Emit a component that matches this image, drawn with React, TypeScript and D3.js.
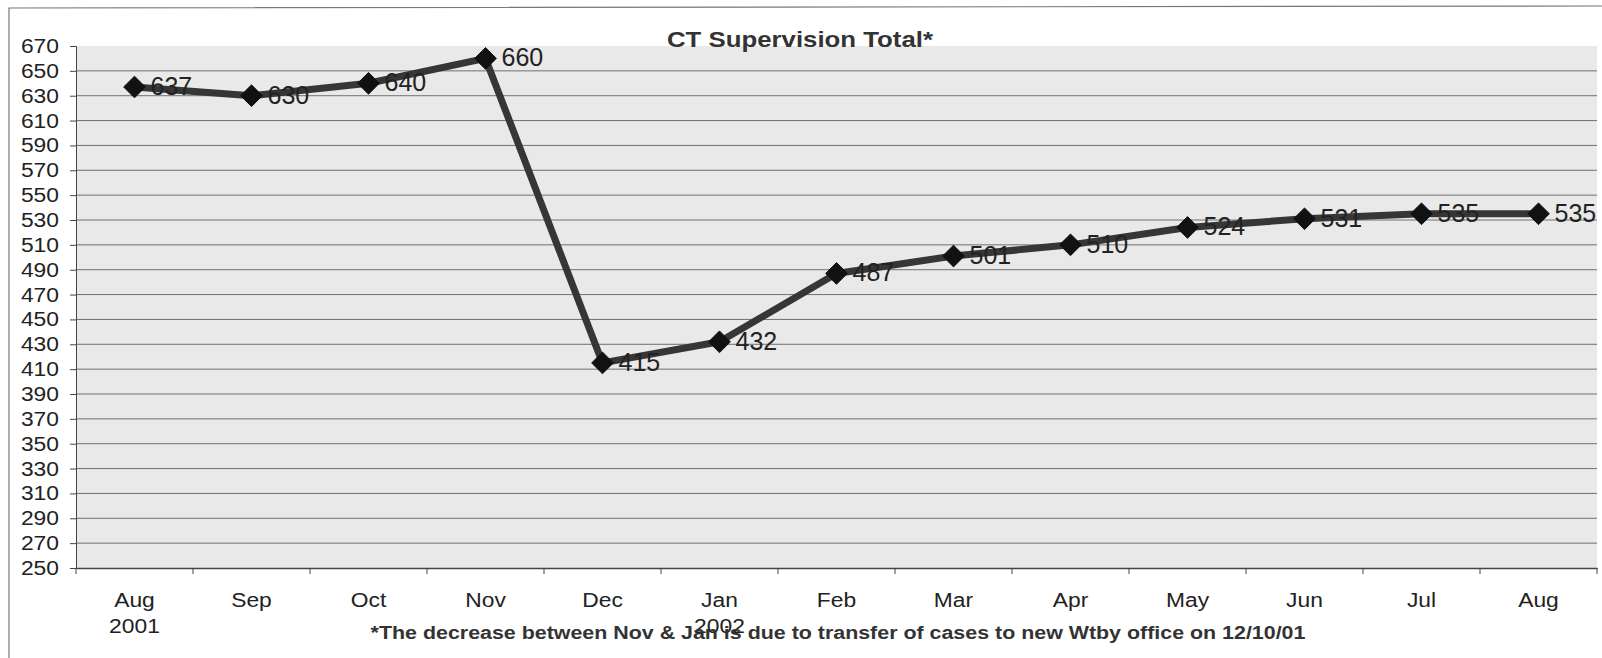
import { useEffect, useRef } from 'react';
import * as d3 from 'd3';

const months = ['Aug', 'Sep', 'Oct', 'Nov', 'Dec', 'Jan', 'Feb', 'Mar', 'Apr', 'May', 'Jun', 'Jul', 'Aug2'];
const monthLabels = ['Aug', 'Sep', 'Oct', 'Nov', 'Dec', 'Jan', 'Feb', 'Mar', 'Apr', 'May', 'Jun', 'Jul', 'Aug'];
const yearLabels = ['2001', '', '', '', '', '2002', '', '', '', '', '', '', ''];
const totals = [637, 630, 640, 660, 415, 432, 487, 501, 510, 524, 531, 535, 535];
const yTicks = d3.range(250, 671, 20);

export default function App() {
  const svgRef = useRef<SVGSVGElement>(null);
  const width = 1602;
  const height = 658;

  useEffect(() => {
    document.body.style.margin = '0';
    if (!svgRef.current) return;
    const svg = d3.select(svgRef.current);
    svg.selectAll('*').remove();

    const margin = { top: 46, right: 5, bottom: 90, left: 76 };
    const innerW = width - margin.left - margin.right;
    const innerH = height - margin.top - margin.bottom;
    const font = 'Arial, "Liberation Sans", sans-serif';
    // the scan is a bit wider than tall, so axis text gets stretched sideways
    const stretch = 1.17;

    // outer frame
    svg.append('rect').attr('width', width).attr('height', height).attr('fill', '#ffffff');
    svg
      .append('path')
      .attr('d', `M9,${height} L9,8 L${width},6`)
      .attr('fill', 'none')
      .attr('stroke', '#777')
      .attr('stroke-width', 1.2);

    const g = svg.append('g').attr('transform', `translate(${margin.left},${margin.top})`);

    const x = d3.scaleBand().domain(months).range([0, innerW]);
    const y = d3.scaleLinear().domain([250, 670]).range([innerH, 0]);
    const cx = (i: number) => (x(months[i]) ?? 0) + x.bandwidth() / 2;

    // plot background
    g.append('rect').attr('width', innerW).attr('height', innerH).attr('fill', '#e9e9e9');

    // gridlines
    g.selectAll('.grid')
      .data(yTicks.filter((t) => t !== 250 && t !== 670))
      .enter()
      .append('line')
      .attr('x1', 0)
      .attr('x2', innerW)
      .attr('y1', (d) => y(d))
      .attr('y2', (d) => y(d))
      .attr('stroke', '#707070')
      .attr('stroke-width', 1);

    // y axis
    const yAxis = g
      .append('g')
      .call(d3.axisLeft(y).tickValues(yTicks).tickSize(6).tickFormat(() => ''));
    yAxis.select('.domain').attr('stroke', '#444');
    yAxis.selectAll('line').attr('stroke', '#444');
    g.selectAll('.ytick-label')
      .data(yTicks)
      .enter()
      .append('text')
      .attr('transform', (d) => `translate(-17,${y(d) + 7}) scale(${stretch},1)`)
      .attr('text-anchor', 'end')
      .attr('font-family', font)
      .attr('font-size', 19.5)
      .attr('fill', '#222')
      .text((d) => d);

    // x axis
    const xAxis = g
      .append('g')
      .attr('transform', `translate(0,${innerH})`)
      .call(d3.axisBottom(x).tickSize(0).tickFormat(() => ''));
    xAxis.select('.domain').attr('stroke', '#444').attr('stroke-width', 1.5);
    g.selectAll('.xtick')
      .data(d3.range(months.length + 1))
      .enter()
      .append('line')
      .attr('x1', (i) => i * x.bandwidth())
      .attr('x2', (i) => i * x.bandwidth())
      .attr('y1', innerH)
      .attr('y2', innerH + 6)
      .attr('stroke', '#444');

    g.selectAll('.mlabel')
      .data(months)
      .enter()
      .append('text')
      .attr('transform', (_d, i) => `translate(${cx(i)},${innerH + 39}) scale(${stretch},1)`)
      .attr('text-anchor', 'middle')
      .attr('font-family', font)
      .attr('font-size', 19.5)
      .attr('fill', '#222')
      .text((_d, i) => monthLabels[i]);

    g.selectAll('.ylabel')
      .data(months)
      .enter()
      .append('text')
      .attr('transform', (_d, i) => `translate(${cx(i)},${innerH + 65}) scale(${stretch},1)`)
      .attr('text-anchor', 'middle')
      .attr('font-family', font)
      .attr('font-size', 19.5)
      .attr('fill', '#222')
      .text((_d, i) => yearLabels[i]);

    // line
    const line = d3
      .line<number>()
      .x((_d, i) => cx(i))
      .y((d) => y(d));

    g.append('path')
      .datum(totals)
      .attr('d', line)
      .attr('fill', 'none')
      .attr('stroke', '#363636')
      .attr('stroke-width', 7)
      .attr('stroke-linejoin', 'round');

    // markers
    const diamond = d3.symbol().type(d3.symbolDiamond2).size(300);
    g.selectAll('.marker')
      .data(totals)
      .enter()
      .append('path')
      .attr('d', diamond)
      .attr('transform', (d, i) => `translate(${cx(i)},${y(d)})`)
      .attr('fill', '#111')
      .attr('stroke', '#111')
      .attr('stroke-width', 1);

    // data labels
    g.selectAll('.dlabel')
      .data(totals)
      .enter()
      .append('text')
      .attr('x', (_d, i) => cx(i) + 16)
      .attr('y', (d) => y(d) + 8)
      .attr('font-family', font)
      .attr('font-size', 25)
      .attr('fill', '#222')
      .text((d) => d);

    // title
    svg
      .append('text')
      .attr('transform', `translate(800,47) scale(${stretch + 0.03},1)`)
      .attr('text-anchor', 'middle')
      .attr('font-family', font)
      .attr('font-weight', 'bold')
      .attr('font-size', 21.5)
      .attr('fill', '#333')
      .text('CT Supervision Total*');

    // footnote
    svg
      .append('text')
      .attr('transform', `translate(838,639) scale(${stretch + 0.02},1)`)
      .attr('text-anchor', 'middle')
      .attr('font-family', font)
      .attr('font-weight', 'bold')
      .attr('font-size', 18)
      .attr('fill', '#333')
      .text('*The decrease between Nov & Jan is due to transfer of cases to new Wtby office on 12/10/01');
  }, []);

  return <svg ref={svgRef} width={width} height={height} style={{ display: 'block' }} />;
}
